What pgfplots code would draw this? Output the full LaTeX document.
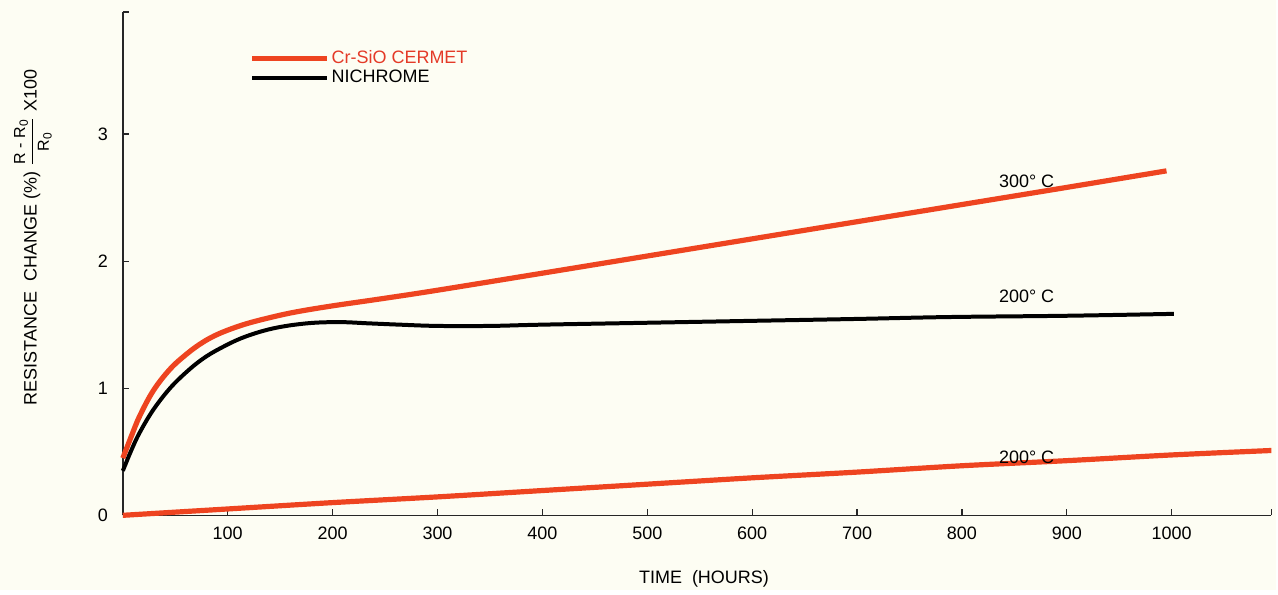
\documentclass[border=0pt]{standalone}
\usepackage{pgfplots}
\pgfplotsset{compat=1.18}
\usepackage{fontspec}
\setmainfont{Liberation Sans}
\definecolor{cermet}{RGB}{238,68,32}
\definecolor{cermettext}{RGB}{228,58,40}
\definecolor{bg}{RGB}{253,253,243}
\begin{document}
\begin{tikzpicture}
\fill[bg] (0,0) rectangle (639pt,295.5pt);
\begin{axis}[
  at={(61.5pt,37.5pt)}, anchor=south west,
  scale only axis, width=575pt, height=252pt,
  xmin=0, xmax=1095, ymin=0, ymax=3.96,
  axis x line=bottom, axis y line=left,
  axis line style={-, line width=0.7pt, black!85},
  tick align=inside, major tick length=3pt,
  tick style={line width=0.6pt, black!85},
  xtick={100,200,...,1000}, ytick={0,1,2,3},
  extra x ticks={1095}, extra x tick labels={},
  extra y ticks={3.96}, extra y tick labels={},
  /pgf/number format/assume math mode=true,
  /pgf/number format/1000 sep={},
  ticklabel style={font=\fontsize{9}{10}\selectfont},
  xticklabel style={yshift=-2.5pt},
  yticklabel style={xshift=-4pt},
  clip=false,
  legend style={draw=none, fill=none, at={(rel axis cs:0.110,0.929)}, anchor=north west,
    inner sep=0pt, row sep=0pt, font=\fontsize{9}{10}\selectfont,
    nodes={inner sep=1pt}},
  legend cell align=left,
  legend image code/.code={\draw[#1] (0pt,0pt) -- (37.5pt,0pt);},
]
\addplot[cermet, line width=2.6pt, smooth, tension=0.6] coordinates {
(0,0.45) (8,0.62) (16,0.78) (29,0.98) (45,1.15) (61,1.27) (76,1.36) (92,1.43)
(115,1.50) (140,1.555) (165,1.60) (200,1.648) (250,1.708)
(300,1.771) (400,1.905) (500,2.04) (600,2.175) (700,2.31) (800,2.445) (900,2.58) (995,2.71)};
\addlegendentry{\textcolor{cermettext}{Cr-SiO CERMET}}
\addplot[black, line width=2pt, smooth, tension=0.6] coordinates {
(0,0.35) (8,0.51) (16,0.65) (29,0.83) (45,1.00) (61,1.13) (76,1.23) (92,1.31)
(115,1.40) (143,1.47) (175,1.51) (206,1.52) (235,1.51) (264,1.50) (300,1.49)
(350,1.49) (400,1.50) (500,1.515) (600,1.53) (700,1.545) (788,1.56) (900,1.57) (1002,1.585)};
\addlegendentry{NICHROME}
\addplot[cermet, line width=2.6pt, smooth, tension=0.5, forget plot] coordinates {
(0,0) (100,0.05) (200,0.10) (300,0.145) (400,0.195) (500,0.245) (600,0.295)
(700,0.34) (800,0.39) (900,0.43) (1000,0.475) (1095,0.51)};
\node[anchor=west, font=\fontsize{9}{10}\selectfont, inner sep=0pt] at (axis cs:835,2.63) {300° C};
\node[anchor=west, font=\fontsize{9}{10}\selectfont, inner sep=0pt] at (axis cs:835,1.72) {200° C};
\node[anchor=west, font=\fontsize{9}{10}\selectfont, inner sep=0pt] at (axis cs:835,0.46) {200° C};
\node[font=\fontsize{9}{10}\selectfont] at ([yshift=-32pt]rel axis cs:0.506,0) {TIME\ \ (HOURS)};
\node[rotate=90, font=\fontsize{9}{10}\selectfont] at ([xshift=-45pt]rel axis cs:0,0.552)
  {RESISTANCE\ \ CHANGE (\%) $\displaystyle\frac{\mbox{\fontsize{8}{9}\selectfont R - R\textsubscript{0}}}{\mbox{\fontsize{8}{9}\selectfont R\textsubscript{0}}}$ X100};
\end{axis}
\end{tikzpicture}
\end{document}
